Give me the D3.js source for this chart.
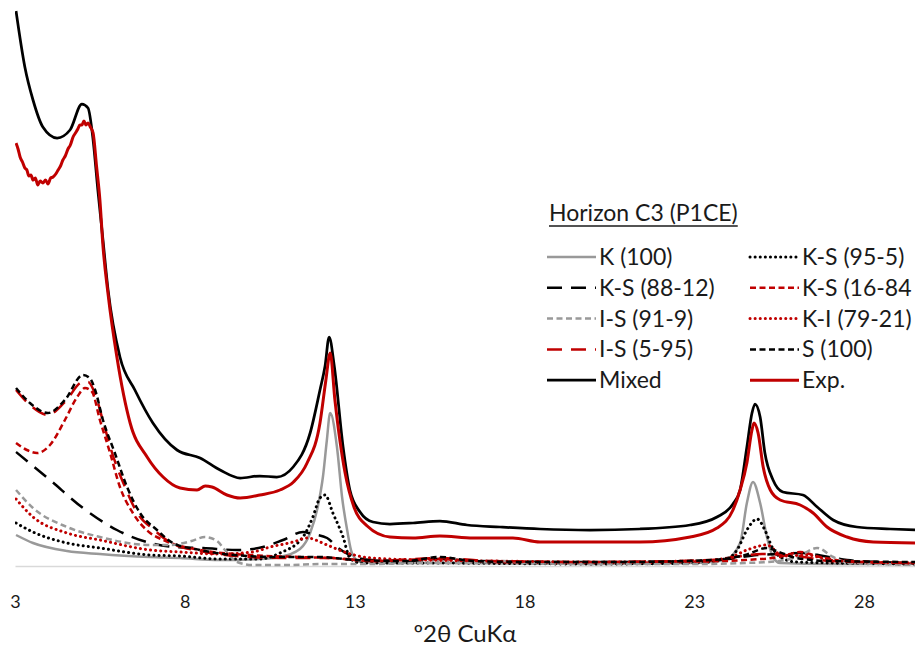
<!DOCTYPE html>
<html>
<head>
<meta charset="utf-8">
<script src="https://cdn.jsdelivr.net/npm/d3@7"></script>
<style>
  body { margin: 0; background: #fff; }
  svg { display: block; }
  text { font-family: Lato, "Open Sans", sans-serif; fill: #1a1a1a; }
</style>
</head>
<body>
<script>
var width = 915,
    height = 651;

// x in degrees 2theta, y in counts (arbitrary)
var xTicks = [3, 8, 13, 18, 23, 28];

var kaol = [[3.03,31],[3.53,23],[4.53,15],[5.5,12],[6.98,9],[7.86,8],[9,6],[10.2,7],[10.8,9],[11.39,17],[11.69,33],
  [11.92,60],[12.07,90],[12.18,125],[12.28,153],[12.48,119],[12.63,69],[12.78,36],[12.92,13],[13.16,4],[14,3],[16,3],
  [20,2],[23,3],[23.9,6],[24.35,23],[24.55,63],[24.73,84],[24.94,63],[25.14,29],[25.32,9],[25.53,3],[27,2],[29.5,2]];

var ks95 = [[3.03,43],[3.53,34],[4.53,23],[5.5,18],[6.98,11],[7.86,10],[9,7],[10.21,7],[10.8,13],[11.48,29],[11.77,49],
  [11.98,68],[12.13,71],[12.36,53],[12.66,29],[12.86,8],[13.16,3],[15,3],[20,2],[23,3],[24,8],[24.26,16],[24.55,36],
  [24.85,47],[25.08,36],[25.29,19],[25.53,9],[26,4],[27,3],[29.5,2]];

var ks88 = [[3.03,114],[4.03,86],[5,58],[6,36],[6.98,23],[7.72,19],[8.54,18],[9.54,16],[10.3,19],[10.89,26],[11.48,34],
  [11.75,32],[12.19,28],[12.48,19],[12.86,11],[13.5,6],[14.5,5],[15.5,7],[16.5,5],[20,4],[23,5],[24,7],[24.85,11],
  [25.5,12],[26.2,13],[26.8,10],[27.5,6],[28.5,4],[29.5,3]];

var ks16 = [[3.03,123],[3.35,116],[3.65,113],[4.03,121],[4.47,146],[4.83,169],[5.06,178],[5.27,174],[5.5,146],[5.8,113],
  [6.09,79],[6.47,53],[6.98,33],[7.36,26],[8.45,16],[9.92,11],[11.39,9],[12.3,8],[13.5,5],[15.5,7],[17,4],[20,3],[23,4],
  [24.5,6],[25.5,9],[26.12,14],[26.7,9],[27.5,5],[29.5,3]];

var is91 = [[3.03,76],[3.53,58],[4.53,39],[5.5,29],[6.98,21],[7.56,21],[8.2,25],[8.59,29],[8.95,25],[9.18,16],[9.54,4],
  [10.01,1],[11,1],[12,2],[13.5,2],[15,3],[16.5,3],[17.37,5],[18,3],[20,2],[23,2],[24.5,3],[25.5,5],[26.03,9],[26.62,18],
  [27.09,9],[27.59,3],[28.5,2],[29.5,1]];

var ki79 = [[3.03,67],[3.53,49],[4.53,33],[5.5,26],[6.98,16],[7.86,14],[9,12],[10,14],[10.51,19],[11.19,24],[11.6,28],
  [12.19,21],[12.78,13],[13.5,8],[15,6],[17,5],[20,4],[23,5],[24,8],[24.55,16],[25.14,21],[25.61,10],[26.3,11],[27,6],
  [28,4],[29.5,3]];

var is5 = [[3.03,176],[3.44,161],[3.97,151],[4.47,164],[5,184],[5.15,184],[5.36,172],[5.59,145],[5.86,113],[6.24,79],
  [6.6,53],[7.1,36],[7.6,23],[8.45,15],[9.5,10],[11,8],[12.3,8],[13.5,5],[15.5,8],[17,5],[20,4],[23.5,6],[25,12],[26,10],
  [27,5],[29.5,3]];

var smec = [[3.03,178],[3.44,163],[3.97,153],[4.47,166],[5,191],[5.2,188],[5.36,176],[5.59,146],[5.94,113],[6.3,79],
  [6.68,53],[7.18,36],[7.65,23],[8.45,16],[9.42,11],[10.8,9],[12,9],[13,6],[14.5,5],[15.5,9],[16.5,5],[18,4],[21,4],
  [23.5,6],[24.5,11],[25.14,18],[25.5,14],[26,8],[27,5],[29.5,4]];

var mixed = [[3.03,555],[3.29,499],[3.53,466],[3.82,439],[4.24,428],[4.62,436],[4.97,462],[5.15,458],[5.3,426],[5.44,376],
  [5.59,326],[5.74,276],[6.09,209],[6.53,176],[7.06,143],[7.77,116],[8.45,108],[9.04,96],[9.63,88],[10.21,90],[10.71,89],
  [11.19,99],[11.69,133],[11.98,176],[12.13,200],[12.25,229],[12.4,200],[12.66,119],[12.86,76],[13.16,54],[13.54,44],
  [14.04,42],[14.72,43],[15.51,45],[16.31,41],[17.28,39],[18.46,37],[19.93,36],[21.4,37],[22.88,41],[23.67,49],[24.14,62],
  [24.35,76],[24.55,119],[24.7,153],[24.79,162],[24.94,149],[25.08,113],[25.32,86],[25.61,74],[26.2,71],[26.62,59],
  [27.09,46],[27.79,39],[28.77,37],[29.5,36]];

var exper = [[3.03,423],[3.09,417],[3.15,409],[3.22,404],[3.29,398],[3.35,396],[3.41,390],[3.47,391],[3.53,386],[3.6,388],
  [3.67,381],[3.74,385],[3.82,383],[3.9,386],[3.97,382],[4.05,388],[4.12,389],[4.2,392],[4.27,396],[4.34,400],[4.41,406],
  [4.48,410],[4.56,417],[4.63,421],[4.71,429],[4.78,433],[4.85,437],[4.91,441],[4.97,441],[5.03,445],[5.09,441],[5.15,443],
  [5.22,439],[5.3,433],[5.4,400],[5.5,366],[5.59,320],[5.74,272],[6,209],[6.39,143],[6.89,109],[7.36,89],[7.86,78],
  [8.36,76],[8.6,80],[8.8,79],[9.24,71],[9.63,68],[10.21,71],[10.8,76],[11.2,84],[11.6,103],[11.98,143],[12.15,185],
  [12.28,213],[12.42,166],[12.72,93],[12.98,59],[13.37,40],[14.04,29],[14.72,28],[15.51,30],[16.49,28],[17.66,28],
  [18.46,24],[21.4,24],[22.88,29],[23.67,38],[24.14,56],[24.35,76],[24.55,103],[24.7,136],[24.76,143],[24.88,133],
  [25.03,99],[25.24,76],[25.53,66],[26.12,61],[26.5,53],[26.91,39],[27.5,29],[28.27,24],[29.5,23]];

// the original legend cuts this label at the edge of the picture
var seriesNames = ["K (100)", "K-S (95-5)", "K-S (88-12)", "K-S (16-84", "I-S (91-9)", "K-I (79-21)",
  "I-S (5-95)", "S (100)", "Mixed", "Exp."];
var seriesData = [kaol, ks95, ks88, ks16, is91, ki79, is5, smec, mixed, exper];

var styles = [
  { color: "#999999", dash: null, w: 2.5, cap: "butt" },
  { color: "#000000", dash: "0.1,5", w: 3, cap: "round" },
  { color: "#000000", dash: "15,9", w: 2.5, cap: "butt" },
  { color: "#c00000", dash: "6,3.5", w: 2.5, cap: "butt" },
  { color: "#999999", dash: "6,3.5", w: 2.5, cap: "butt" },
  { color: "#c00000", dash: "0.1,5", w: 3, cap: "round" },
  { color: "#c00000", dash: "15,9", w: 2.5, cap: "butt" },
  { color: "#000000", dash: "6,3.5", w: 2.5, cap: "butt" },
  { color: "#000000", dash: null, w: 2.75, cap: "butt" },
  { color: "#c00000", dash: null, w: 3, cap: "butt" }
];

var x = d3.scaleLinear().domain([3, 29.5]).range([15, 915]);
var y = d3.scaleLinear().domain([0, 560]).range([566, 6]);

var svg = d3.select("body").append("svg")
    .attr("width", width)
    .attr("height", height);

svg.append("clipPath").attr("id", "plot")
  .append("rect").attr("x", 15).attr("y", 0).attr("width", 900).attr("height", 570);

// axis
var axis = svg.append("g")
    .attr("transform", "translate(0," + y(0) + ")")
    .call(d3.axisBottom(x).tickValues(xTicks).tickSize(0).tickPadding(29).tickFormat(d3.format("d")));
axis.select(".domain").attr("stroke", "#d9d9d9").attr("stroke-width", 1.5);
axis.selectAll("text")
    .style("font-family", "Lato, 'Open Sans', sans-serif")
    .style("font-size", "18px")
    .attr("fill", "#1a1a1a");

svg.append("text")
    .attr("x", 465).attr("y", 642)
    .attr("text-anchor", "middle")
    .style("font-size", "24px")
    .text("º2θ CuKα");

var line = d3.line()
    .x(function (d) { return x(d[0]); })
    .y(function (d) { return y(d[1]); })
    .curve(d3.curveMonotoneX);

svg.append("g").attr("clip-path", "url(#plot)")
  .selectAll("path")
  .data(seriesData)
  .enter().append("path")
    .attr("d", line)
    .attr("fill", "none")
    .attr("stroke", function (d, i) { return styles[i].color; })
    .attr("stroke-width", function (d, i) { return styles[i].w; })
    .attr("stroke-dasharray", function (d, i) { return styles[i].dash; })
    .attr("stroke-linecap", function (d, i) { return styles[i].cap; })
    .attr("stroke-linejoin", "round");

// legend
var legend = svg.append("g");
var title = legend.append("text")
    .attr("x", 549).attr("y", 221)
    .style("font-size", "23px")
    .text("Horizon C3 (P1CE)");
var tw = title.node().getComputedTextLength();
legend.append("line")
    .attr("x1", 549).attr("x2", 549 + tw)
    .attr("y1", 226).attr("y2", 226)
    .attr("stroke", "#1a1a1a").attr("stroke-width", 1.4);

var item = legend.selectAll(".item")
    .data(seriesNames)
  .enter().append("g")
    .attr("class", "item")
    .attr("transform", function (d, i) {
      return "translate(" + (i % 2 ? 750 : 547) + "," + (257 + Math.floor(i / 2) * 30.8) + ")";
    });

item.append("line")
    .attr("x1", 0).attr("x2", 49)
    .attr("stroke", function (d, i) { return styles[i].color; })
    .attr("stroke-width", function (d, i) { return styles[i].w; })
    .attr("stroke-dasharray", function (d, i) { return styles[i].dash; })
    .attr("stroke-linecap", function (d, i) { return styles[i].cap; });

item.append("text")
    .attr("x", 52).attr("dy", "0.35em")
    .style("font-size", "23px")
    .text(function (d) { return d; });
</script>
</body>
</html>
